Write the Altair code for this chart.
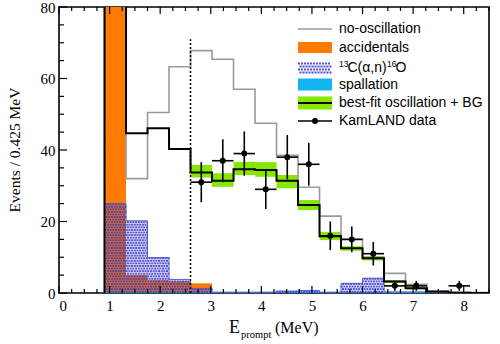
import altair as alt
import pandas as pd
import numpy as np

# ---------------- data ----------------
bin_lo = [0.9, 1.325, 1.75, 2.175, 2.6, 3.025, 3.45, 3.875, 4.3, 4.725, 5.15, 5.575, 6.0, 6.425, 6.85, 7.275, 7.7, 8.125]
bin_hi = [1.325, 1.75, 2.175, 2.6, 3.025, 3.45, 3.875, 4.3, 4.725, 5.15, 5.575, 6.0, 6.425, 6.85, 7.275, 7.7, 8.125, 8.55]

no_osc      = [120, 32.0, 50.5, 63.3, 67.8, 65.4, 57.0, 47.5, 38.5, 29.6, 21.5, 15.0, 10.0, 5.5, 2.4, 0.5, 0.1, 0.0]
best_fit    = [115, 44.7, 46.1, 40.3, 33.7, 31.4, 34.6, 34.4, 31.4, 24.6, 15.9, 12.5, 9.7, 3.2, 1.3, 0.4, 0.1, 0.0]
accidentals = [115, 5.0, 3.6, 3.3, 2.7, 0.2, 0.1, 0.1, 0.1, 0.1, 0.0, 0.0, 0.0, 0.0, 0.0, 0.0, 0.0, 0.0]
c13         = [25.0, 20.2, 9.9, 3.8, 1.3, 0.2, 0.2, 0.2, 0.5, 0.7, 0.2, 2.7, 4.1, 0.3, 0.3, 0.2, 0.1, 0.1]
spallation  = [0.35] * 18

# best-fit uncertainty band (bins from 2.6 MeV)
band_lo_edge = [2.6, 3.025, 3.45, 3.875, 4.3, 4.725, 5.15, 5.575, 6.0, 6.425, 6.85]
band_hi_edge = [3.025, 3.45, 3.875, 4.3, 4.725, 5.15, 5.575, 6.0, 6.425, 6.85, 7.275]
band_low     = [32.3, 29.7, 33.0, 32.5, 29.3, 23.2, 14.8, 11.8, 9.1, 2.8, 1.0]
band_high    = [35.8, 33.5, 36.7, 36.6, 33.0, 26.0, 17.1, 13.1, 10.3, 3.6, 1.6]

data_x   = [2.8125, 3.2375, 3.6625, 4.0875, 4.5125, 4.9375, 5.3625, 5.7875, 6.2125, 6.6375, 7.0625, 7.9125]
data_y   = [31, 37, 39, 29, 38, 36, 16, 15, 11, 2, 2, 2]
data_err = [5.6, 6.0, 6.2, 5.5, 6.2, 6.0, 4.0, 3.6, 3.3, 1.4, 1.4, 1.4]
half_bin = 0.2125

threshold = 2.6
threshold_top = 71

x_major = [0, 1, 2, 3, 4, 5, 6, 7, 8]
y_major = [0, 20, 40, 60, 80]

W, H = 430, 286
XS = alt.Scale(domain=[0, 8.5], nice=False, zero=False)
YS = alt.Scale(domain=[0, 80], nice=False, zero=False)

ORANGE = "#ff7a00"
CYAN = "#12b5f0"
GREEN = "#86e800"
HATCH = "#3434cc"
GRAY = "#9a9a9a"

xa = alt.Axis(values=x_major, format="d", ticks=False, domain=False, grid=False,
              labelFont="Liberation Serif", labelFontSize=15, labelColor="black",
              labelFontWeight="normal", labelPadding=5, title=None)
ya = alt.Axis(values=y_major, format="d", ticks=False, domain=False, grid=False,
              labelFont="Liberation Serif", labelFontSize=15, labelColor="black",
              labelFontWeight="normal", labelPadding=4, title=None)

def X(f):
    return alt.X(f, scale=XS, axis=xa)

def Y(f):
    return alt.Y(f, scale=YS, axis=ya)

def step_df(vals):
    xs = [bin_lo[0]] + bin_lo + [bin_hi[-1]]
    ys = [0] + vals + [vals[-1]]
    return pd.DataFrame({"x": xs, "y": ys, "i": list(range(len(xs)))})

bins = pd.DataFrame({"lo": bin_lo, "hi": bin_hi, "acc": accidentals, "c13": c13,
                     "spal": spallation, "zero": [0.0] * len(bin_lo)})
one = pd.DataFrame({"k": [0]})

# hatch dots for 13C(a,n)
dx, dy = 0.425 / 8, 0.72
hx, hy = [], []
for lo, hi, v in zip(bin_lo, bin_hi, c13):
    j = 0
    yy = dy / 2
    while yy < v:
        off = (dx / 2) if j % 2 else 0.0
        xx = lo + dx / 4 + off
        while xx < hi:
            hx.append(xx); hy.append(yy)
            xx += dx
        yy += dy
        j += 1
hatch_df = pd.DataFrame({"x": hx, "y": hy})

acc_layer = alt.Chart(bins).mark_rect(color=ORANGE, clip=True).encode(
    x=X("lo:Q"), x2="hi:Q", y=Y("zero:Q"), y2="acc:Q")

spal_layer = alt.Chart(bins).mark_rect(color=CYAN, clip=True).encode(
    x=X("lo:Q"), x2="hi:Q", y=Y("zero:Q"), y2="spal:Q")

hatch_layer = alt.Chart(hatch_df).mark_square(fill=HATCH, size=4.2, opacity=0.85, clip=True).encode(
    x=X("x:Q"), y=Y("y:Q"))

c13_line = alt.Chart(step_df(c13)).mark_line(interpolate="step-after", color="#5a5ad8",
                                             strokeWidth=1, clip=True).encode(
    x=X("x:Q"), y=Y("y:Q"), order="i:Q")

band_df = pd.DataFrame({"lo": band_lo_edge, "hi": band_hi_edge, "b0": band_low, "b1": band_high})
band_layer = alt.Chart(band_df).mark_rect(color=GREEN, clip=True).encode(
    x=X("lo:Q"), x2="hi:Q", y=Y("b0:Q"), y2="b1:Q")

noosc_line = alt.Chart(step_df(no_osc)).mark_line(interpolate="step-after", color=GRAY,
                                                  strokeWidth=1.6, clip=True).encode(
    x=X("x:Q"), y=Y("y:Q"), order="i:Q")

bf_line = alt.Chart(step_df(best_fit)).mark_line(interpolate="step-after", color="black",
                                                 strokeWidth=2, clip=True).encode(
    x=X("x:Q"), y=Y("y:Q"), order="i:Q")

thr_df = pd.DataFrame({"x": [threshold], "y0": [0], "y1": [threshold_top]})
thr_layer = alt.Chart(thr_df).mark_rule(color="black", strokeWidth=1.5, strokeDash=[2, 2]).encode(
    x=X("x:Q"), y=Y("y0:Q"), y2="y1:Q")

pts = pd.DataFrame({"x": data_x, "y": data_y, "e": data_err})
pts["ylo"] = pts["y"] - pts["e"]
pts["yhi"] = pts["y"] + pts["e"]
pts["xlo"] = pts["x"] - half_bin
pts["xhi"] = pts["x"] + half_bin
ev = alt.Chart(pts).mark_rule(color="black", strokeWidth=1.6).encode(
    x=X("x:Q"), y=Y("ylo:Q"), y2="yhi:Q")
eh = alt.Chart(pts).mark_rule(color="black", strokeWidth=1.6).encode(
    x=X("xlo:Q"), x2="xhi:Q", y=Y("y:Q"))
dots = alt.Chart(pts).mark_circle(fill="black", size=36, opacity=1).encode(
    x=X("x:Q"), y=Y("y:Q"))

# ---------------- ticks (inward) ----------------
xt_major = pd.DataFrame({"x": x_major})
xt_minor = pd.DataFrame({"x": [v for v in np.arange(0, 8.51, 0.25) if abs(v - round(v)) > 1e-6]})
yt_major = pd.DataFrame({"y": y_major})
yt_minor = pd.DataFrame({"y": [v for v in range(0, 81, 5) if v % 20]})

def xticks(df, length):
    b = alt.Chart(df).mark_rule(color="black", strokeWidth=1.2)
    return (b.encode(x=X("x:Q"), y=alt.value(H), y2=alt.value(H - length))
            + b.encode(x=X("x:Q"), y=alt.value(0), y2=alt.value(length)))

def yticks(df, length):
    return alt.Chart(df).mark_rule(color="black", strokeWidth=1.2).encode(
        y=Y("y:Q"), x=alt.value(0), x2=alt.value(length))

ticks = xticks(xt_major, 7) + xticks(xt_minor, 4) + yticks(yt_major, 8) + yticks(yt_minor, 5)

# ---------------- legend ----------------
LX0, LX1, LT = 239, 273, 280
r1, r2, r3, r4, r5, r6 = 22, 40.5, 61, 77.5, 96, 114
def lrect(color, yc, h=11):
    return alt.Chart(one).mark_rect(color=color).encode(
        x=alt.value(LX0), x2=alt.value(LX1), y=alt.value(yc - h / 2), y2=alt.value(yc + h / 2))
def lrule(color, yc, w):
    return alt.Chart(one).mark_rule(color=color, strokeWidth=w).encode(
        x=alt.value(LX0), x2=alt.value(LX1), y=alt.value(yc))
def ltext(t, x, yc, size=14):
    return alt.Chart(one).mark_text(align="left", baseline="middle", font="Liberation Sans",
                                    fontSize=size, fontWeight="normal", fill="black").encode(
        x=alt.value(x), y=alt.value(yc), text=alt.value(t))

lhx, lhy = [], []
for j in range(4):
    yy = r3 - 4.5 + j * 3
    xx = LX0 + 1 + (1.5 if j % 2 else 0)
    while xx < LX1:
        lhx.append(xx); lhy.append(yy)
        xx += 3
lh_df = pd.DataFrame({"px": lhx, "py": lhy})
legend_hatch = alt.Chart(lh_df).mark_square(fill=HATCH, size=4.2, opacity=0.85).encode(
    x=alt.X("px:Q", scale=None, axis=None), y=alt.Y("py:Q", scale=None, axis=None))

legend = (lrule(GRAY, r1, 1.6) + ltext("no-oscillation", LT, r1)
          + lrect(ORANGE, r2) + ltext("accidentals", LT, r2)
          + legend_hatch
          + ltext("13", LT, r3 - 4.5, 8.5) + ltext("C(α,n)", LT + 8.5, r3)
          + ltext("16", LT + 48, r3 - 4.5, 8.5) + ltext("O", LT + 56.5, r3)
          + lrect(CYAN, r4, 12) + ltext("spallation", LT, r4)
          + lrect(GREEN, r5, 13) + lrule("black", r5, 2) + ltext("best-fit oscillation + BG", LT, r5)
          + lrule("black", r6, 1.6)
          + alt.Chart(one).mark_circle(fill="black", size=36, opacity=1).encode(
              x=alt.value((LX0 + LX1) / 2), y=alt.value(r6))
          + ltext("KamLAND data", LT, r6))

# ---------------- titles ----------------
def ttext(t, x, y, size, align="left", angle=0, baseline="alphabetic"):
    return alt.Chart(one).mark_text(align=align, baseline=baseline, font="Liberation Serif",
                                    fontSize=size, fontWeight="normal", fill="black",
                                    angle=angle).encode(
        x=alt.value(x), y=alt.value(y), text=alt.value(t))

titles = (ttext("Events / 0.425 MeV", -44, 143, 15.5, align="center", angle=270, baseline="middle")
          + ttext("E", 170, 326, 18)
          + ttext("prompt", 182, 331, 10.5)
          + ttext("(MeV)", 216, 326, 16))

chart = alt.layer(
    acc_layer, spal_layer, hatch_layer, c13_line, band_layer, noosc_line, bf_line,
    thr_layer, ev, eh, dots, ticks, legend, titles
).properties(
    width=W, height=H,
    autosize=alt.AutoSizeParams(type="none"),
    padding={"left": 59, "top": 7, "right": 11, "bottom": 51},
    background="white"
).configure_view(stroke="black", strokeWidth=1.6)

chart.save("out.html", embed_options={"renderer": "svg", "actions": False})
